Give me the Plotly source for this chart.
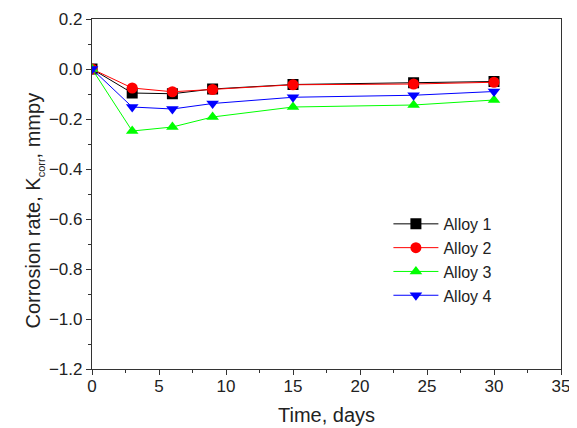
import plotly.graph_objects as go

days = [0, 3, 6, 9, 15, 24, 30]
alloy1 = [0.0, -0.096, -0.099, -0.080, -0.062, -0.055, -0.050]
alloy2 = [0.0, -0.076, -0.091, -0.082, -0.063, -0.060, -0.053]
alloy3 = [0.0, -0.248, -0.232, -0.192, -0.152, -0.144, -0.124]
alloy4 = [0.0, -0.152, -0.160, -0.138, -0.113, -0.105, -0.090]

series = [
    ("Alloy 1", alloy1, "black", "square"),
    ("Alloy 2", alloy2, "red", "circle"),
    ("Alloy 3", alloy3, "#00ff00", "triangle-up"),
    ("Alloy 4", alloy4, "blue", "triangle-down"),
]

fig = go.Figure()
for name, vals, col, sym in series:
    fig.add_trace(go.Scatter(
        x=days, y=vals, name=name, mode="lines+markers",
        line=dict(color=col, width=1),
        marker=dict(color=col, symbol=sym, size=11, line=dict(width=0)),
    ))

font = "Liberation Sans, Arial, sans-serif"
fig.update_layout(
    width=569, height=420,
    margin=dict(l=84, r=16, t=11, b=59),
    paper_bgcolor="white", plot_bgcolor="white",
    font=dict(family=font, size=17, color="#222"),
    showlegend=True,
    legend=dict(x=0.632, y=0.463, xanchor="left", yanchor="top",
                bgcolor="rgba(0,0,0,0)", font=dict(size=16, color="#222"),
                itemwidth=45, tracegroupgap=0),
    xaxis=dict(range=[0, 35], tickvals=[0, 5, 10, 15, 20, 25, 30, 35],
               automargin=False, ticklabelstandoff=-4,
               showgrid=False, zeroline=False, showline=True, linecolor="#333",
               linewidth=1.3, mirror=True, ticks="outside", ticklen=5,
               tickcolor="#333",
               minor=dict(dtick=2.5, ticks="outside", ticklen=3, tickcolor="#333"),
               title=dict(text="Time, days", font=dict(size=20), standoff=13)),
    yaxis=dict(range=[-1.2, 0.2], tickvals=[-1.2, -1.0, -0.8, -0.6, -0.4, -0.2, 0.0, 0.2],
               tickformat=".1f", automargin=False,
               showgrid=False, zeroline=False, showline=True, linecolor="#333",
               linewidth=1.3, mirror=True, ticks="outside", ticklen=5,
               tickcolor="#333",
               minor=dict(dtick=0.1, ticks="outside", ticklen=3, tickcolor="#333"),
               title=dict(text="Corrosion rate, K<sub><span style='font-size:11px'>corr</span></sub>, mmpy&nbsp;&nbsp;&nbsp;&nbsp;&nbsp;&nbsp;",
                          font=dict(size=20), standoff=2)),
)

fig.write_html("out.html")
